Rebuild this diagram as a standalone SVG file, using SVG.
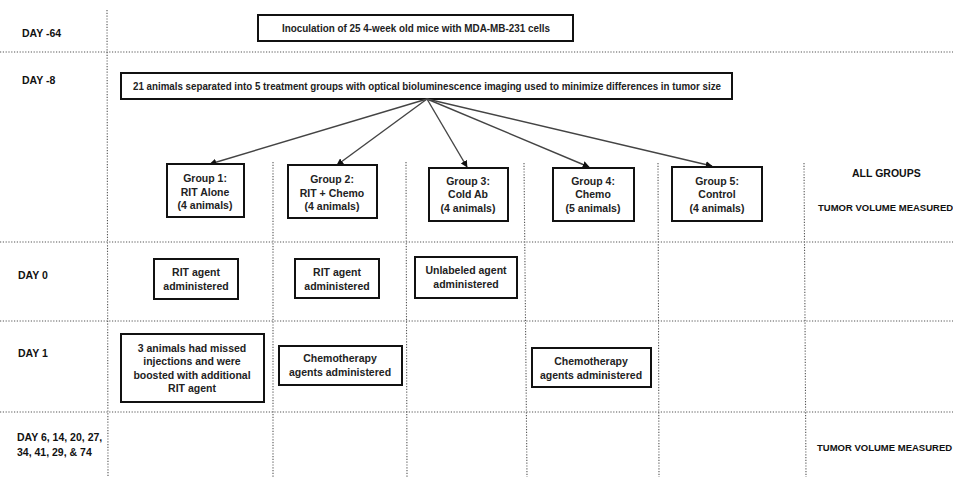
<svg xmlns="http://www.w3.org/2000/svg" width="953" height="477" viewBox="0 0 953 477">
<defs>
<style>
.grid{stroke:#555;stroke-width:1.1;stroke-dasharray:1.2 1.6;fill:none}
.box{fill:#fff;stroke:#111;stroke-width:2}
.t{font-family:"Liberation Sans",Arial,sans-serif;font-size:10.5px;font-weight:bold;fill:#222;text-anchor:middle}
.lbl{font-family:"Liberation Sans",Arial,sans-serif;font-size:10.5px;font-weight:bold;fill:#111}
.tv{font-family:"Liberation Sans",Arial,sans-serif;font-size:9.5px;font-weight:bold;fill:#111}
.arr{stroke:#444;stroke-width:1.4;fill:none;marker-end:url(#ah)}
</style>
<marker id="ah" viewBox="0 0 10 10" refX="9" refY="5" markerWidth="7" markerHeight="7" orient="auto" markerUnits="userSpaceOnUse">
<path d="M0,0 L10,5 L0,10 Z" fill="#111"/>
</marker>
</defs>
<rect width="953" height="477" fill="#fff"/>
<g id="grid">
<line class="grid" x1="0" y1="52" x2="953" y2="52"/>
<line class="grid" x1="0" y1="242" x2="953" y2="242"/>
<line class="grid" x1="0" y1="321" x2="953" y2="321"/>
<line class="grid" x1="0" y1="412" x2="953" y2="412"/>
<line class="grid" x1="107" y1="10" x2="108" y2="477"/>
<line class="grid" x1="273" y1="162" x2="273" y2="477"/>
<line class="grid" x1="406" y1="162" x2="407" y2="477"/>
<line class="grid" x1="524" y1="163" x2="527" y2="477"/>
<line class="grid" x1="658" y1="163" x2="659" y2="477"/>
<line class="grid" x1="804" y1="163" x2="806" y2="477"/>
</g>
<g id="day-labels">
<text class="lbl" x="22" y="37">DAY -64</text>
<text class="lbl" x="22" y="84">DAY -8</text>
<text class="lbl" x="18" y="279">DAY 0</text>
<text class="lbl" x="18" y="357">DAY 1</text>
<text class="lbl" x="17" y="441">DAY 6, 14, 20, 27,</text>
<text class="lbl" x="17" y="456">34, 41, 29, &amp; 74</text>
</g>
<g id="all-groups">
<text class="lbl" x="852" y="177">ALL GROUPS</text>
<text class="tv" x="818" y="211">TUMOR VOLUME MEASURED</text>
</g>
<g id="tumor-final">
<text class="tv" x="817" y="451">TUMOR VOLUME MEASURED</text>
</g>
<g id="inoculation">
<rect class="box" x="258" y="15" width="315" height="26"/>
<text class="t" x="416" y="32" textLength="268" lengthAdjust="spacingAndGlyphs">Inoculation of 25 4-week old mice with MDA-MB-231 cells</text>
</g>
<g id="separation">
<rect class="box" x="121" y="73" width="611" height="26"/>
<text class="t" x="427" y="90" textLength="588" lengthAdjust="spacingAndGlyphs">21 animals separated into 5 treatment groups with optical bioluminescence imaging used to minimize differences in tumor size</text>
</g>
<g id="connectors">
<line class="arr" x1="427" y1="99" x2="210" y2="164"/>
<line class="arr" x1="427" y1="99" x2="337" y2="165"/>
<line class="arr" x1="427" y1="99" x2="467" y2="167"/>
<line class="arr" x1="427" y1="99" x2="589" y2="167"/>
<line class="arr" x1="427" y1="99" x2="712" y2="166"/>
</g>
<g id="group1">
<rect class="box" x="167" y="164" width="77" height="53"/>
<text class="t" x="205" y="182">Group 1:</text>
<text class="t" x="205" y="196">RIT Alone</text>
<text class="t" x="205" y="209">(4 animals)</text>
</g>
<g id="group2">
<rect class="box" x="288" y="165" width="89" height="53"/>
<text class="t" x="332" y="183">Group 2:</text>
<text class="t" x="332" y="197">RIT + Chemo</text>
<text class="t" x="332" y="210">(4 animals)</text>
</g>
<g id="group3">
<rect class="box" x="429" y="168" width="79" height="53"/>
<text class="t" x="468" y="185">Group 3:</text>
<text class="t" x="468" y="198">Cold Ab</text>
<text class="t" x="468" y="212">(4 animals)</text>
</g>
<g id="group4">
<rect class="box" x="553" y="168" width="81" height="53"/>
<text class="t" x="593" y="185">Group 4:</text>
<text class="t" x="593" y="198">Chemo</text>
<text class="t" x="593" y="212">(5 animals)</text>
</g>
<g id="group5">
<rect class="box" x="672" y="167" width="90" height="54"/>
<text class="t" x="717" y="185">Group 5:</text>
<text class="t" x="717" y="198">Control</text>
<text class="t" x="717" y="212">(4 animals)</text>
</g>
<g id="d0-g1">
<rect class="box" x="154" y="259" width="84" height="40"/>
<text class="t" x="196" y="276">RIT agent</text>
<text class="t" x="196" y="290">administered</text>
</g>
<g id="d0-g2">
<rect class="box" x="295" y="259" width="84" height="39"/>
<text class="t" x="337" y="276">RIT agent</text>
<text class="t" x="337" y="290">administered</text>
</g>
<g id="d0-g3">
<rect class="box" x="415" y="257" width="102" height="41"/>
<text class="t" x="466" y="274">Unlabeled agent</text>
<text class="t" x="466" y="288">administered</text>
</g>
<g id="d1-g1">
<rect class="box" x="121" y="334" width="143" height="68"/>
<text class="t" x="192" y="352">3 animals had missed</text>
<text class="t" x="192" y="365">injections and were</text>
<text class="t" x="192" y="379">boosted with additional</text>
<text class="t" x="192" y="392">RIT agent</text>
</g>
<g id="d1-g2">
<rect class="box" x="279" y="346" width="123" height="39"/>
<text class="t" x="340" y="362">Chemotherapy</text>
<text class="t" x="340" y="376">agents administered</text>
</g>
<g id="d1-g4">
<rect class="box" x="532" y="348" width="119" height="39"/>
<text class="t" x="591" y="365">Chemotherapy</text>
<text class="t" x="591" y="379">agents administered</text>
</g>
</svg>
